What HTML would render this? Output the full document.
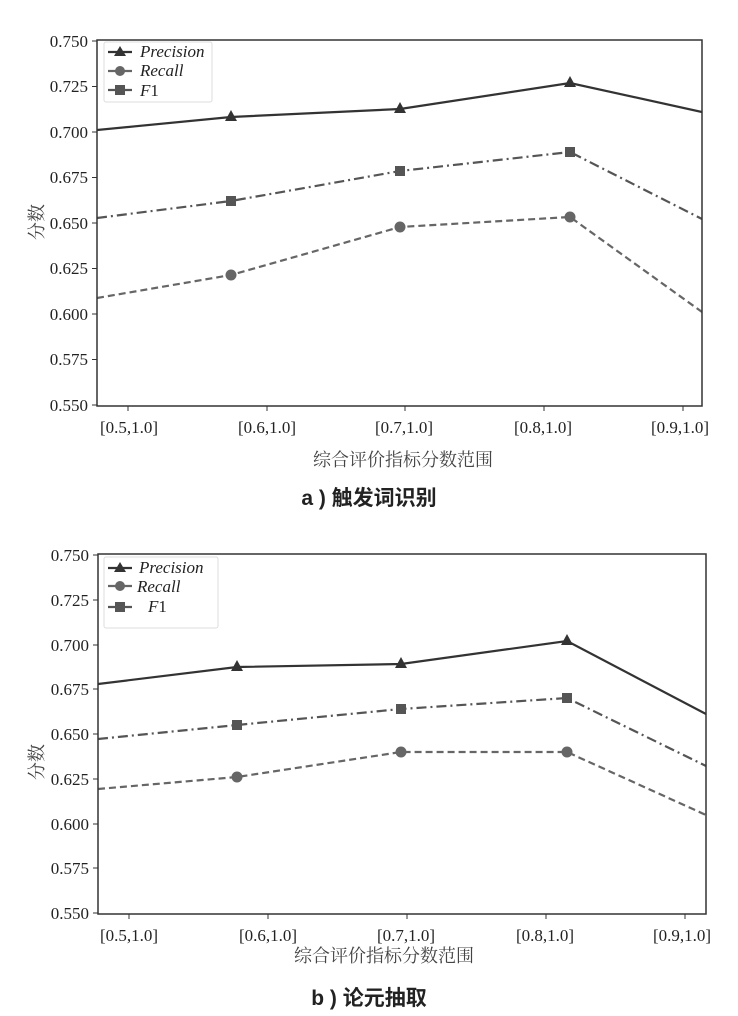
<!DOCTYPE html>
<html><head><meta charset="utf-8"><style>
body{margin:0;background:#fff;}
svg{display:block;}
.t{font-family:"Liberation Serif",serif;font-size:17px;fill:#222;}
.cn{font-family:"Liberation Serif","Noto Serif CJK SC",serif;font-size:18px;fill:#444;}
.cap{font-family:"Liberation Sans","Noto Sans CJK SC",sans-serif;font-size:21px;fill:#222;font-weight:bold;}
.lg{font-family:"Liberation Serif",serif;font-style:italic;font-size:17px;fill:#222;}
</style></head><body>
<svg width="738" height="1016" viewBox="0 0 738 1016" xmlns="http://www.w3.org/2000/svg">
<defs>
<clipPath id="c1"><rect x="97" y="40" width="605" height="366"/></clipPath>
<clipPath id="c2"><rect x="98" y="554" width="608" height="360"/></clipPath>
</defs>
<!-- TOP -->
<g clip-path="url(#c1)">
<polyline points="97,130 231,117 400,109 570,83 702,112" fill="none" stroke="#333" stroke-width="2.2"/>
<polyline points="97,218 231,201 400,171 570,152 702,219" fill="none" stroke="#555" stroke-width="2.2" stroke-dasharray="10,4,2,4"/>
<polyline points="97,298 231,275 400,227 570,217 702,312" fill="none" stroke="#666" stroke-width="2.2" stroke-dasharray="7,4"/>
</g>
<g fill="#333"><path d="M231,110 l6,11 h-12z"/><path d="M400,102 l6,11 h-12z"/><path d="M570,76 l6,11 h-12z"/></g>
<g fill="#555"><rect x="226" y="196" width="10" height="10"/><rect x="395" y="166" width="10" height="10"/><rect x="565" y="147" width="10" height="10"/></g>
<g fill="#666"><circle cx="231" cy="275" r="5.5"/><circle cx="400" cy="227" r="5.5"/><circle cx="570" cy="217" r="5.5"/></g>
<rect x="97" y="40" width="605" height="366" fill="none" stroke="#333" stroke-width="1.5"/>
<g stroke="#333" stroke-width="1">
<line x1="92" y1="41" x2="97" y2="41"/><line x1="92" y1="86.5" x2="97" y2="86.5"/><line x1="92" y1="132" x2="97" y2="132"/><line x1="92" y1="177.5" x2="97" y2="177.5"/><line x1="92" y1="223" x2="97" y2="223"/><line x1="92" y1="268.5" x2="97" y2="268.5"/><line x1="92" y1="314" x2="97" y2="314"/><line x1="92" y1="359.5" x2="97" y2="359.5"/><line x1="92" y1="405" x2="97" y2="405"/>
<line x1="128" y1="406" x2="128" y2="411"/><line x1="267" y1="406" x2="267" y2="411"/><line x1="405" y1="406" x2="405" y2="411"/><line x1="544" y1="406" x2="544" y2="411"/><line x1="683" y1="406" x2="683" y2="411"/>
</g>
<g class="t" text-anchor="end">
<text x="88" y="47">0.750</text><text x="88" y="92">0.725</text><text x="88" y="138">0.700</text><text x="88" y="183">0.675</text><text x="88" y="229">0.650</text><text x="88" y="274">0.625</text><text x="88" y="320">0.600</text><text x="88" y="365">0.575</text><text x="88" y="411">0.550</text>
</g>
<g class="t" text-anchor="middle">
<text x="129" y="433">[0.5,1.0]</text><text x="267" y="433">[0.6,1.0]</text><text x="404" y="433">[0.7,1.0]</text><text x="543" y="433">[0.8,1.0]</text><text x="680" y="433">[0.9,1.0]</text>
</g>
<text class="cn" x="403" y="466" text-anchor="middle">综合评价指标分数范围</text>
<text class="cn" transform="translate(43,222) rotate(-90)" text-anchor="middle">分数</text>
<text class="cap" x="369" y="505" text-anchor="middle">a ) 触发词识别</text>
<rect x="104" y="42" width="108" height="60" fill="#fff" stroke="#ddd" stroke-width="1" rx="2"/>
<line x1="108" y1="52" x2="132" y2="52" stroke="#333" stroke-width="2.2"/><path d="M120,46 l6,10 h-12z" fill="#333"/>
<line x1="108" y1="71" x2="132" y2="71" stroke="#666" stroke-width="2.2"/><circle cx="120" cy="71" r="5" fill="#666"/>
<line x1="108" y1="90" x2="132" y2="90" stroke="#555" stroke-width="2.2"/><rect x="115" y="85" width="10" height="10" fill="#555"/>
<text class="lg" x="140" y="57">Precision</text><text class="lg" x="140" y="76">Recall</text><text class="lg" x="140" y="96">F<tspan font-style="normal">1</tspan></text>

<!-- BOTTOM -->
<g clip-path="url(#c2)">
<polyline points="98,684 237,667 401,664 567,641 706,714" fill="none" stroke="#333" stroke-width="2.2"/>
<polyline points="98,739 237,725 401,709 567,698 706,766" fill="none" stroke="#555" stroke-width="2.2" stroke-dasharray="10,4,2,4"/>
<polyline points="98,789 237,777 401,752 567,752 706,815" fill="none" stroke="#666" stroke-width="2.2" stroke-dasharray="7,4"/>
</g>
<g fill="#333"><path d="M237,660 l6,11 h-12z"/><path d="M401,657 l6,11 h-12z"/><path d="M567,634 l6,11 h-12z"/></g>
<g fill="#555"><rect x="232" y="720" width="10" height="10"/><rect x="396" y="704" width="10" height="10"/><rect x="562" y="693" width="10" height="10"/></g>
<g fill="#666"><circle cx="237" cy="777" r="5.5"/><circle cx="401" cy="752" r="5.5"/><circle cx="567" cy="752" r="5.5"/></g>
<rect x="98" y="554" width="608" height="360" fill="none" stroke="#333" stroke-width="1.5"/>
<g stroke="#333" stroke-width="1">
<line x1="93" y1="555" x2="98" y2="555"/><line x1="93" y1="600" x2="98" y2="600"/><line x1="93" y1="645" x2="98" y2="645"/><line x1="93" y1="689" x2="98" y2="689"/><line x1="93" y1="734" x2="98" y2="734"/><line x1="93" y1="779" x2="98" y2="779"/><line x1="93" y1="824" x2="98" y2="824"/><line x1="93" y1="868" x2="98" y2="868"/><line x1="93" y1="913" x2="98" y2="913"/>
<line x1="129" y1="914" x2="129" y2="919"/><line x1="268" y1="914" x2="268" y2="919"/><line x1="407" y1="914" x2="407" y2="919"/><line x1="546" y1="914" x2="546" y2="919"/><line x1="685" y1="914" x2="685" y2="919"/>
</g>
<g class="t" text-anchor="end">
<text x="89" y="561">0.750</text><text x="89" y="606">0.725</text><text x="89" y="651">0.700</text><text x="89" y="695">0.675</text><text x="89" y="740">0.650</text><text x="89" y="785">0.625</text><text x="89" y="830">0.600</text><text x="89" y="874">0.575</text><text x="89" y="919">0.550</text>
</g>
<g class="t" text-anchor="middle">
<text x="129" y="941">[0.5,1.0]</text><text x="268" y="941">[0.6,1.0]</text><text x="406" y="941">[0.7,1.0]</text><text x="545" y="941">[0.8,1.0]</text><text x="682" y="941">[0.9,1.0]</text>
</g>
<text class="cn" x="384" y="962" text-anchor="middle">综合评价指标分数范围</text>
<text class="cn" transform="translate(43,762) rotate(-90)" text-anchor="middle">分数</text>
<text class="cap" x="369" y="1005" text-anchor="middle">b ) 论元抽取</text>
<rect x="104" y="557" width="114" height="71" fill="#fff" stroke="#ddd" stroke-width="1" rx="2"/>
<line x1="108" y1="568" x2="132" y2="568" stroke="#333" stroke-width="2.2"/><path d="M120,562 l6,10 h-12z" fill="#333"/>
<line x1="108" y1="586" x2="132" y2="586" stroke="#666" stroke-width="2.2"/><circle cx="120" cy="586" r="5" fill="#666"/>
<line x1="108" y1="607" x2="132" y2="607" stroke="#555" stroke-width="2.2"/><rect x="115" y="602" width="10" height="10" fill="#555"/>
<text class="lg" x="139" y="573">Precision</text><text class="lg" x="137" y="592">Recall</text><text class="lg" x="148" y="612">F<tspan font-style="normal">1</tspan></text>
</svg>
</body></html>
